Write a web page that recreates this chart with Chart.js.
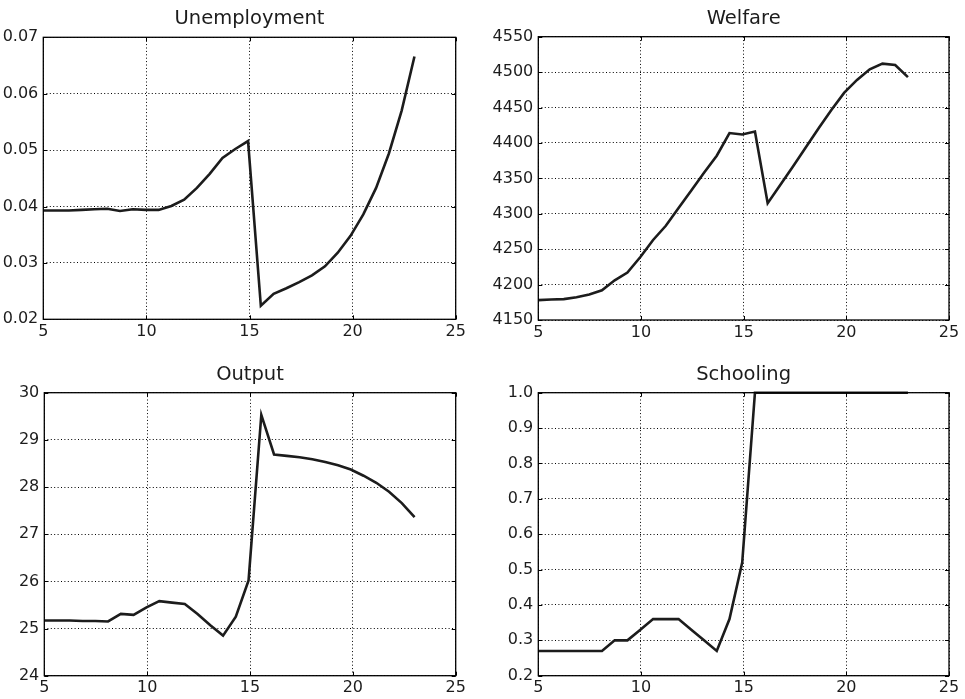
<!DOCTYPE html>
<html>
<head>
<meta charset="utf-8">
<script src="https://cdn.jsdelivr.net/npm/chart.js@4/dist/chart.umd.min.js"></script>
<style>
  html, body { margin: 0; padding: 0; background: #ffffff; }
  #wrap { position: relative; width: 965px; height: 699px; background: #ffffff; }
  canvas { position: absolute; }
</style>
</head>
<body>
<div id="wrap">
  <canvas id="c1" style="left:0px;top:0px;"></canvas>
  <canvas id="c2" style="left:482px;top:0px;"></canvas>
  <canvas id="c3" style="left:0px;top:349px;"></canvas>
  <canvas id="c4" style="left:482px;top:349px;"></canvas>
</div>
<script>
// ---------------- data ----------------
const xValues = [5.00, 5.62, 6.24, 6.86, 7.48, 8.10, 8.72, 9.34, 9.97, 10.59,
                 11.21, 11.83, 12.45, 13.07, 13.69, 14.31, 14.93, 15.55, 16.17, 16.79,
                 17.41, 18.03, 18.66, 19.28, 19.90, 20.52, 21.14, 21.76, 22.38, 23.00];

const unemployment = [0.0393, 0.0393, 0.0393, 0.0394, 0.0395, 0.0396, 0.0392, 0.0395, 0.0394, 0.0394,
                      0.0401, 0.0412, 0.0433, 0.0458, 0.0486, 0.0502, 0.0516, 0.0224, 0.0245, 0.0255,
                      0.0266, 0.0278, 0.0294, 0.0318, 0.0348, 0.0386, 0.0433, 0.0494, 0.0570, 0.0666];

const welfare = [4178, 4179, 4179.5, 4182, 4186, 4192, 4206, 4217, 4239, 4263,
                 4283, 4308, 4333, 4358, 4382, 4414, 4412, 4416, 4315, 4341,
                 4367, 4394, 4421, 4447, 4471, 4489, 4504, 4512, 4510, 4493];

const output = [25.17, 25.17, 25.17, 25.16, 25.16, 25.15, 25.31, 25.29, 25.45, 25.58,
                25.55, 25.52, 25.31, 25.07, 24.85, 25.25, 26.02, 29.53, 28.69, 28.66,
                28.63, 28.59, 28.53, 28.46, 28.37, 28.24, 28.09, 27.90, 27.66, 27.36];

const schooling = [0.27, 0.27, 0.27, 0.27, 0.27, 0.27, 0.30, 0.30, 0.33, 0.36,
                   0.36, 0.36, 0.33, 0.30, 0.27, 0.36, 0.52, 1.00, 1.00, 1.00,
                   1.00, 1.00, 1.00, 1.00, 1.00, 1.00, 1.00, 1.00, 1.00, 1.00];

const xTicks = [5, 10, 15, 20, 25];
const xTickLabels = ['5', '10', '15', '20', '25'];

const unempTicks = [0.02, 0.03, 0.04, 0.05, 0.06, 0.07];
const unempTickLabels = ['0.02', '0.03', '0.04', '0.05', '0.06', '0.07'];

const welfareTicks = [4150, 4200, 4250, 4300, 4350, 4400, 4450, 4500, 4550];
const welfareTickLabels = ['4150', '4200', '4250', '4300', '4350', '4400', '4450', '4500', '4550'];

const outputTicks = [24, 25, 26, 27, 28, 29, 30];
const outputTickLabels = ['24', '25', '26', '27', '28', '29', '30'];

const schoolTicks = [0.2, 0.3, 0.4, 0.5, 0.6, 0.7, 0.8, 0.9, 1.0];
const schoolTickLabels = ['0.2', '0.3', '0.4', '0.5', '0.6', '0.7', '0.8', '0.9', '1.0'];

const titles = ['Unemployment', 'Welfare', 'Output', 'Schooling'];

// ---------------- drawing ----------------
const INK = '#1c1c1c';
const FONT = "'DejaVu Sans', 'Bitstream Vera Sans', sans-serif";

const framePlugin = {
  id: 'frame',
  afterDraw(chart) {
    const ctx = chart.ctx;
    const a = chart.chartArea;
    const xs = chart.scales.x, ys = chart.scales.y;
    ctx.save();
    ctx.strokeStyle = '#000';
    ctx.lineWidth = 1;
    ctx.setLineDash([]);
    const L = 4;
    ctx.beginPath();
    xs.ticks.forEach(t => {
      const px = Math.round(xs.getPixelForValue(t.value)) + 0.5;
      ctx.moveTo(px, a.bottom); ctx.lineTo(px, a.bottom - L);
      ctx.moveTo(px, a.top); ctx.lineTo(px, a.top + L);
    });
    ys.ticks.forEach(t => {
      const py = Math.round(ys.getPixelForValue(t.value)) + 0.5;
      ctx.moveTo(a.left, py); ctx.lineTo(a.left + L, py);
      ctx.moveTo(a.right, py); ctx.lineTo(a.right - L, py);
    });
    ctx.stroke();
    ctx.lineWidth = 1.3;
    ctx.strokeRect(a.left, a.top, a.right - a.left, a.bottom - a.top);
    ctx.restore();
  }
};

function makeChart(id, title, series, yTicks, yLabels, g) {
  const cv = document.getElementById(id);
  cv.width = g.w; cv.height = g.h;
  cv.style.width = g.w + 'px'; cv.style.height = g.h + 'px';
  const pts = xValues.map((x, i) => ({ x: x, y: series[i] }));
  return new Chart(cv, {
    type: 'line',
    data: {
      datasets: [{
        data: pts,
        borderColor: INK,
        borderWidth: 2.6,
        pointRadius: 0,
        fill: false,
        tension: 0,
        clip: 4
      }]
    },
    options: {
      responsive: false,
      animation: false,
      devicePixelRatio: 1,
      layout: { padding: { left: 0, right: g.padR, top: 0, bottom: 0 } },
      plugins: {
        legend: { display: false },
        tooltip: { enabled: false },
        title: {
          display: true,
          fullSize: false,
          text: title,
          color: INK,
          font: { family: FONT, size: 19.5, weight: 'normal', lineHeight: 1.2 },
          padding: { top: g.tt, bottom: g.tb }
        }
      },
      scales: {
        x: {
          type: 'linear',
          min: xTicks[0],
          max: xTicks[xTicks.length - 1],
          afterBuildTicks(s) { s.ticks = xTicks.map(v => ({ value: v })); },
          afterFit(s) { s.height = g.xH; },
          ticks: {
            color: INK,
            padding: 3,
            maxRotation: 0,
            autoSkip: false,
            font: { family: FONT, size: 16 },
            callback: (v, i) => xTickLabels[i]
          },
          grid: { color: '#000', lineWidth: 1, drawTicks: false },
          border: { display: false, dash: [1, 2.4] }
        },
        y: {
          type: 'linear',
          min: yTicks[0],
          max: yTicks[yTicks.length - 1],
          afterBuildTicks(s) { s.ticks = yTicks.map(v => ({ value: v })); },
          afterFit(s) { s.width = g.yW; },
          ticks: {
            color: INK,
            padding: 5,
            autoSkip: false,
            font: { family: FONT, size: 16 },
            callback: (v, i) => yLabels[i]
          },
          grid: { color: '#000', lineWidth: 1, drawTicks: false },
          border: { display: false, dash: [1, 2.4] }
        }
      }
    },
    plugins: [framePlugin]
  });
}

makeChart('c1', titles[0], unemployment, unempTicks, unempTickLabels,
  { w: 482, h: 349, yW: 43.3, padR: 26.3, xH: 29.7, tt: 7.5, tb: 6.4 });
makeChart('c2', titles[1], welfare, welfareTicks, welfareTickLabels,
  { w: 483, h: 349, yW: 56.3, padR: 16, xH: 29, tt: 7.3, tb: 6.0 });
makeChart('c3', titles[2], output, outputTicks, outputTickLabels,
  { w: 482, h: 350, yW: 44.3, padR: 26.3, xH: 23.3, tt: 14.0, tb: 6.3 });
makeChart('c4', titles[3], schooling, schoolTicks, schoolTickLabels,
  { w: 483, h: 350, yW: 56.3, padR: 16, xH: 23.3, tt: 14.0, tb: 6.3 });
</script>
</body>
</html>
